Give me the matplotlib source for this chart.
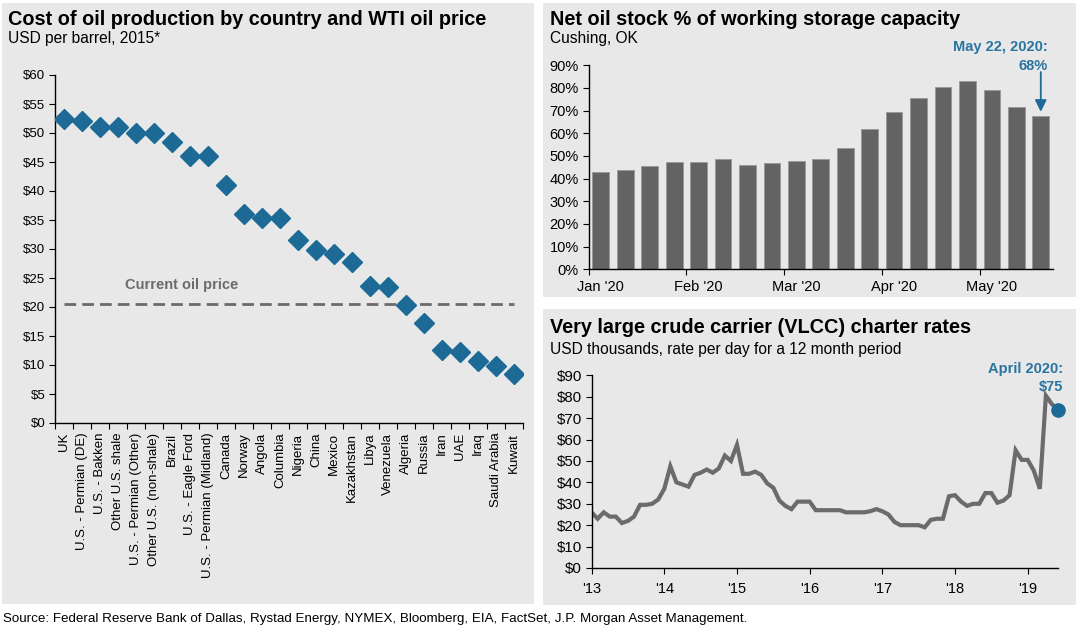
import matplotlib
matplotlib.use("Agg")
import matplotlib.pyplot as plt
from matplotlib.patches import Rectangle
import numpy as np

plt.rcParams['font.family'] = ['Liberation Sans', 'DejaVu Sans']

# ---------------- data ----------------
countries = ["UK", "U.S. - Permian (DE)", "U.S. - Bakken", "Other U.S. shale",
             "U.S. - Permian (Other)", "Other U.S. (non-shale)", "Brazil",
             "U.S. - Eagle Ford", "U.S. - Permian (Midland)", "Canada", "Norway",
             "Angola", "Columbia", "Nigeria", "China", "Mexico", "Kazakhstan",
             "Libya", "Venezuela", "Algeria", "Russia", "Iran", "UAE", "Iraq",
             "Saudi Arabia", "Kuwait"]
cost = [52.5, 52.0, 51.0, 51.0, 50.0, 50.0, 48.4, 46.0, 46.0, 41.0, 36.1,
        35.3, 35.3, 31.6, 29.8, 29.1, 27.7, 23.7, 23.4, 20.4, 17.2, 12.6,
        12.3, 10.7, 9.85, 8.4]
current_price = 20.5
cost_yticks = [0, 5, 10, 15, 20, 25, 30, 35, 40, 45, 50, 55, 60]

storage_pct = [42.8, 44.0, 45.4, 47.5, 47.5, 48.7, 46.2, 47.1, 47.6, 48.8,
               53.5, 61.9, 69.6, 75.7, 80.4, 83.2, 79.3, 71.8, 67.5]
month_labels = ["Jan '20", "Feb '20", "Mar '20", "Apr '20", "May '20"]
storage_yticks = [0, 10, 20, 30, 40, 50, 60, 70, 80, 90]

vlcc_rates = [26, 23, 26, 24, 24, 21, 22, 24, 29.5, 29.5, 30, 32,
              37, 47.5, 40, 39, 38, 43.5, 44.5, 46, 44.5, 46.5, 52.5, 50,
              57.5, 44, 44, 45, 43.5, 39.5, 37.5, 31.5, 29, 27.5, 31, 31,
              31, 27, 27, 27, 27, 27, 26, 26, 26, 26, 26.5, 27.5,
              26.5, 25, 21.5, 20, 20, 20, 20, 19, 22.5, 23, 23, 33.5,
              34, 31, 29, 30, 30, 35, 35, 30.5, 31.5, 34, 55, 50.5,
              50.5, 45.5, 37, 80.5, 76.5, 74]
vlcc_start_year = 2013
year_labels = ["'13", "'14", "'15", "'16", "'17", "'18", "'19"]
vlcc_yticks = [0, 10, 20, 30, 40, 50, 60, 70, 80, 90]

# ---------------- styling ----------------
W, H = 1080, 629
PANEL = "#e8e8e8"
BLUE = "#1d6a96"
BLUE_TXT = "#2a74a0"
BAR = "#636363"
LINE = "#6b6b6b"

fig = plt.figure(figsize=(W / 100, H / 100), dpi=100)
fig.patch.set_facecolor("white")


def panel(x0, x1, y0, y1):
    fig.patches.append(Rectangle((x0 / W, (H - y1) / H), (x1 - x0) / W, (y1 - y0) / H,
                                 transform=fig.transFigure, facecolor=PANEL,
                                 edgecolor="none", zorder=-10))


def ax_px(x0, x1, ytop, ybot):
    a = fig.add_axes([x0 / W, (H - ybot) / H, (x1 - x0) / W, (ybot - ytop) / H])
    a.set_facecolor("none")
    for s in ["top", "right"]:
        a.spines[s].set_visible(False)
    for s in ["left", "bottom"]:
        a.spines[s].set_color("black")
        a.spines[s].set_linewidth(1.0)
    return a


def ftext(x, y, s, **kw):
    fig.text(x / W, 1 - y / H, s, **kw)


panel(2, 534, 3, 604)
panel(543, 1076, 3, 297)
panel(543, 1076, 309, 605)

# ---------------- left: cost of production ----------------
ax1 = ax_px(55, 523, 75, 423)
xs = np.arange(len(countries))
ax1.plot(xs, cost, linestyle="none", marker="D", markersize=9.8,
         color=BLUE, markeredgecolor=BLUE, zorder=3)
ax1.plot([xs[0], xs[-1]], [current_price, current_price], linestyle=(0, (4.2, 2.2)),
         color="#6b6b6b", linewidth=2.0, zorder=2)
ax1.text(3.4, current_price + 3.3, "Current oil price", color="#6b6b6b",
         fontsize=10.5, fontweight="bold", va="center", ha="left")
ax1.set_xlim(-0.5, len(countries) - 0.5)
ax1.set_ylim(0, 60)
ax1.set_yticks(cost_yticks)
ax1.set_yticklabels([f"${v}" for v in cost_yticks])
ax1.set_xticks(xs)
ax1.set_xticklabels(countries, rotation=90, ha="center", va="top")
ax1.set_xticks(np.arange(len(countries) + 1) - 0.5, minor=True)
ax1.tick_params(axis="x", which="major", length=0, pad=7, labelsize=9.5)
ax1.tick_params(axis="x", which="minor", length=4, width=0.8, direction="out")
ax1.tick_params(axis="y", length=4, width=0.8, direction="out", labelsize=9.5, pad=3)

ftext(8, 25, "Cost of oil production by country and WTI oil price",
      fontsize=14.3, fontweight="bold", va="baseline", ha="left")
ftext(8, 43.5, "USD per barrel, 2015*", fontsize=11.2, va="baseline", ha="left")

# ---------------- top right: storage ----------------
ax2 = ax_px(588.6, 1053, 65.3, 269.3)
bx = np.arange(len(storage_pct))
ax2.bar(bx, storage_pct, width=0.685, color=BAR, edgecolor="#9a9a9a", linewidth=0.7,
        zorder=2)
ax2.set_xlim(-0.5, len(storage_pct) - 0.5)
ax2.set_ylim(0, 90)
ax2.set_yticks(storage_yticks)
ax2.set_yticklabels([f"{v}%" for v in storage_yticks])
ax2.set_xticks(np.arange(len(month_labels)) * 4)
ax2.set_xticklabels(month_labels)
ax2.set_xticks(np.arange(len(month_labels)) * 4 - 0.5, minor=True)
ax2.tick_params(axis="x", which="major", length=0, pad=8, labelsize=10.5)
ax2.tick_params(axis="x", which="minor", length=4, width=0.8, direction="out")
ax2.tick_params(axis="y", length=4, width=0.8, direction="out", labelsize=10.5, pad=3)

last_i = len(storage_pct) - 1
ax2.annotate("", xy=(bx[last_i], storage_pct[last_i] + 2.0),
             xytext=(bx[last_i], storage_pct[last_i] + 19.5),
             arrowprops=dict(arrowstyle="-|>,head_length=0.7,head_width=0.35",
                             color=BLUE, lw=1.3, shrinkA=0, shrinkB=0))
ftext(1047.5, 51.5, "May 22, 2020:", fontsize=10.5, fontweight="bold",
      color=BLUE_TXT, ha="right", va="baseline")
ftext(1047.5, 69.5, "68%", fontsize=10.5, fontweight="bold",
      color=BLUE_TXT, ha="right", va="baseline")

ftext(550, 25, "Net oil stock % of working storage capacity",
      fontsize=14.3, fontweight="bold", va="baseline", ha="left")
ftext(550, 43.5, "Cushing, OK", fontsize=11.2, va="baseline", ha="left")

# ---------------- bottom right: VLCC ----------------
ax3 = ax_px(591.6, 1058, 375.3, 568)
lx = vlcc_start_year + np.arange(len(vlcc_rates)) / 12.0
ax3.plot(lx, vlcc_rates, color=LINE, linewidth=3.0, solid_joinstyle="miter", zorder=2)
ax3.plot(lx[-1:], vlcc_rates[-1:], linestyle="none", marker="o", markersize=9.5,
         color=BLUE, clip_on=False, zorder=3)
ax3.set_xlim(lx[0], lx[-1])
ax3.set_ylim(0, 90)
ax3.set_yticks(vlcc_yticks)
ax3.set_yticklabels([f"${v}" for v in vlcc_yticks])
ax3.set_xticks(vlcc_start_year + np.arange(len(year_labels)))
ax3.set_xticklabels(year_labels)
ax3.tick_params(axis="x", length=4, width=0.8, direction="out", labelsize=10.5, pad=6)
ax3.tick_params(axis="y", length=4, width=0.8, direction="out", labelsize=10.8, pad=3)

ftext(1063.5, 373, "April 2020:", fontsize=10.5, fontweight="bold",
      color=BLUE_TXT, ha="right", va="baseline")
ftext(1063.5, 391, "$75", fontsize=10.5, fontweight="bold",
      color=BLUE_TXT, ha="right", va="baseline")

ftext(550, 333.5, "Very large crude carrier (VLCC) charter rates",
      fontsize=14.3, fontweight="bold", va="baseline", ha="left")
ftext(550, 354, "USD thousands, rate per day for a 12 month period",
      fontsize=11.2, va="baseline", ha="left")

# ---------------- source ----------------
ftext(3, 622, "Source: Federal Reserve Bank of Dallas, Rystad Energy, NYMEX, Bloomberg, EIA, "
      "FactSet, J.P. Morgan Asset Management.", fontsize=9.6, va="baseline", ha="left")

fig.savefig("out.png", dpi=100, facecolor="white")
